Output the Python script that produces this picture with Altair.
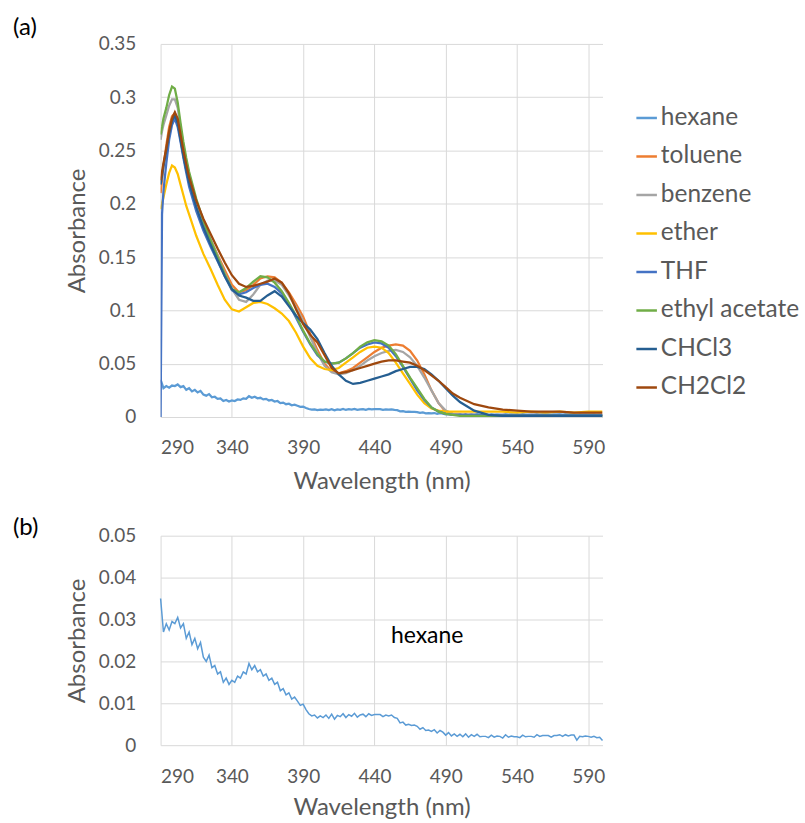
import altair as alt
import pandas as pd

# ---------------- data ----------------
series_names = ["hexane", "toluene", "benzene", "ether", "THF",
                "ethyl acetate", "CHCl3", "CH2Cl2"]
series_colors = ["#5B9BD5", "#ED7D31", "#A5A5A5", "#FFC000", "#4472C4",
                 "#70AD47", "#255E91", "#9E480E"]

x_ticks = [290, 340, 390, 440, 490, 540, 590]
y_ticks_a = [0, 0.05, 0.1, 0.15, 0.2, 0.25, 0.3, 0.35]
y_ticks_b = [0, 0.01, 0.02, 0.03, 0.04, 0.05]

# hexane, measured every 2 nm
hex_wl = list(range(290, 601, 2))
hexane = [
    0.035, 0.027, 0.029, 0.0275, 0.0295, 0.029, 0.0305, 0.028, 0.029, 0.0255,
    0.027, 0.024, 0.0255, 0.023, 0.0245, 0.021, 0.02, 0.0215, 0.0185, 0.019,
    0.017, 0.0175, 0.015, 0.016, 0.0145, 0.0155, 0.015, 0.0165, 0.016, 0.0175,
    0.017, 0.0195, 0.018, 0.019, 0.0175, 0.018, 0.0165, 0.017, 0.0155, 0.016,
    0.0145, 0.015, 0.013, 0.0135, 0.012, 0.0125, 0.011, 0.0115, 0.0105, 0.0095,
    0.0098, 0.0085, 0.0075, 0.007, 0.0072, 0.0065, 0.007, 0.0066, 0.0072, 0.0064,
    0.0074, 0.0062, 0.0071, 0.0068, 0.0075, 0.0066, 0.0073, 0.0069, 0.0076, 0.0067,
    0.0072, 0.0074, 0.0068, 0.0075, 0.0071, 0.0073, 0.0073, 0.0073, 0.0068, 0.0072,
    0.007, 0.0072, 0.0066, 0.0064, 0.0053, 0.0055, 0.0048, 0.005, 0.0047, 0.0048,
    0.0045, 0.0038, 0.0042, 0.0035, 0.0036, 0.0033, 0.0037, 0.0029, 0.0035, 0.0031,
    0.0024, 0.003, 0.0022, 0.0027, 0.0021, 0.0026, 0.002, 0.0027, 0.0019, 0.0025,
    0.0021, 0.0026, 0.002, 0.0021, 0.0021, 0.0018, 0.0024, 0.0019, 0.0022, 0.0021,
    0.0017, 0.0025, 0.0019, 0.0022, 0.002, 0.002, 0.0018, 0.0024, 0.002, 0.0021,
    0.0021, 0.0019, 0.0025, 0.0021, 0.0023, 0.0023, 0.0023, 0.0019, 0.0023, 0.0023,
    0.0025, 0.0021, 0.0025, 0.0022, 0.0024, 0.0024, 0.0012, 0.0021, 0.002, 0.0022,
    0.0021, 0.0019, 0.0021, 0.0018, 0.0019, 0.0011,
]

wl = [290, 291, 292, 294, 296, 298, 300, 302, 304, 306,
      308, 310, 315, 320, 325, 330, 335, 340, 345, 350,
      355, 360, 365, 370, 375, 380, 385, 390, 395, 400,
      405, 410, 415, 420, 425, 430, 435, 440, 445, 450,
      455, 460, 465, 470, 475, 480, 485, 490, 495, 500,
      510, 520, 530, 540, 550, 560, 570, 580, 590, 600]

toluene = [0.21, 0.222, 0.235, 0.255, 0.272, 0.282, 0.285, 0.278, 0.262, 0.246,
           0.232, 0.22, 0.197, 0.18, 0.166, 0.152, 0.138, 0.124, 0.117, 0.119,
           0.124, 0.13, 0.132, 0.131, 0.126, 0.117, 0.106, 0.094, 0.078, 0.063,
           0.05, 0.043, 0.041, 0.043, 0.046, 0.051, 0.056, 0.061, 0.065, 0.067,
           0.068, 0.067, 0.062, 0.053, 0.04, 0.025, 0.013, 0.005, 0.003, 0.002,
           0.002, 0.001, 0.002, 0.001, 0.002, 0.002, 0.001, 0.002, 0.002, 0.002]

benzene = [0.26, 0.268, 0.274, 0.283, 0.292, 0.298, 0.298, 0.29, 0.272, 0.255,
           0.24, 0.228, 0.202, 0.183, 0.167, 0.151, 0.135, 0.12, 0.11, 0.108,
           0.115, 0.124, 0.128, 0.128, 0.124, 0.114, 0.103, 0.09, 0.075, 0.06,
           0.048, 0.042, 0.04, 0.041, 0.044, 0.048, 0.053, 0.057, 0.06, 0.062,
           0.063, 0.061, 0.056, 0.048, 0.037, 0.025, 0.013, 0.006, 0.003, 0.002,
           0.001, 0.001, 0.001, 0.001, 0.001, 0.001, 0.001, 0.001, 0.001, 0.001]

ether = [0.195, 0.2, 0.206, 0.218, 0.229, 0.236, 0.234, 0.228, 0.218, 0.208,
         0.198, 0.19, 0.17, 0.153, 0.139, 0.124, 0.11, 0.101, 0.099, 0.103,
         0.107, 0.108, 0.106, 0.102, 0.097, 0.09, 0.079, 0.066, 0.055, 0.048,
         0.045, 0.044, 0.046, 0.051, 0.056, 0.061, 0.065, 0.066, 0.065, 0.06,
         0.051, 0.041, 0.031, 0.021, 0.013, 0.008, 0.006, 0.005, 0.005, 0.005,
         0.005, 0.005, 0.005, 0.004, 0.005, 0.004, 0.005, 0.004, 0.005, 0.005]

thf = [0.0, 0.19, 0.212, 0.238, 0.26, 0.274, 0.28, 0.272, 0.258, 0.243,
       0.229, 0.216, 0.193, 0.175, 0.16, 0.146, 0.132, 0.119, 0.115, 0.117,
       0.121, 0.124, 0.125, 0.122, 0.116, 0.106, 0.093, 0.08, 0.068, 0.058,
       0.052, 0.05, 0.051, 0.055, 0.06, 0.065, 0.068, 0.07, 0.069, 0.065,
       0.057, 0.047, 0.036, 0.025, 0.016, 0.009, 0.005, 0.003, 0.002, 0.002,
       0.002, 0.002, 0.002, 0.002, 0.002, 0.002, 0.002, 0.002, 0.002, 0.002]

ethyl_acetate = [0.265, 0.272, 0.28, 0.29, 0.302, 0.31, 0.308, 0.295, 0.276, 0.258,
                 0.243, 0.23, 0.205, 0.184, 0.166, 0.15, 0.134, 0.12, 0.117, 0.121,
                 0.127, 0.132, 0.131, 0.126, 0.118, 0.107, 0.095, 0.081, 0.069, 0.059,
                 0.052, 0.05, 0.051, 0.055, 0.06, 0.066, 0.07, 0.072, 0.071, 0.067,
                 0.059, 0.048, 0.037, 0.027, 0.017, 0.009, 0.005, 0.003, 0.002, 0.001,
                 0.001, 0.001, 0.001, 0.001, 0.001, 0.001, 0.001, 0.001, 0.001, 0.001]

chcl3 = [0.218, 0.226, 0.235, 0.25, 0.266, 0.278, 0.283, 0.276, 0.26, 0.245,
         0.232, 0.22, 0.197, 0.178, 0.162, 0.147, 0.132, 0.12, 0.114, 0.112,
         0.109, 0.109, 0.114, 0.118, 0.113, 0.104, 0.095, 0.088, 0.082, 0.073,
         0.06, 0.048, 0.04, 0.034, 0.031, 0.032, 0.034, 0.036, 0.038, 0.04,
         0.043, 0.045, 0.047, 0.047, 0.045, 0.04, 0.034, 0.027, 0.02, 0.014,
         0.006, 0.002, 0.001, 0.001, 0.001, 0.001, 0.001, 0.001, 0.001, 0.001]

ch2cl2 = [0.222, 0.23, 0.238, 0.252, 0.268, 0.28, 0.286, 0.28, 0.265, 0.25,
          0.237, 0.225, 0.203, 0.186, 0.172, 0.158, 0.145, 0.133, 0.125, 0.122,
          0.123, 0.125, 0.127, 0.13, 0.126, 0.116, 0.101, 0.087, 0.077, 0.07,
          0.058, 0.046, 0.041, 0.042, 0.044, 0.046, 0.048, 0.05, 0.052, 0.053,
          0.053, 0.052, 0.051, 0.048, 0.044, 0.039, 0.034, 0.028, 0.022, 0.018,
          0.012, 0.009, 0.007, 0.006, 0.005, 0.005, 0.005, 0.004, 0.004, 0.004]

annot_wl = [477]
annot_abs = [0.026]
annot_text = ["hexane"]

# ---------------- tables ----------------
rows = []
for w, v in zip(hex_wl, hexane):
    rows.append({"wl": w, "abs": v, "solvent": "hexane", "k": 0})
others = [toluene, benzene, ether, thf, ethyl_acetate, chcl3, ch2cl2]
for i, vals in enumerate(others, start=1):
    for w, v in zip(wl, vals):
        rows.append({"wl": w, "abs": v, "solvent": series_names[i], "k": i})
df = pd.DataFrame(rows)
df_hex = pd.DataFrame({"wl": hex_wl, "abs": hexane})
df_annot = pd.DataFrame({"wl": annot_wl, "abs": annot_abs, "t": annot_text})

FONT = "Lato"
GRAY = "#595959"


def x_enc(title_pad):
    return alt.X("wl:Q", scale=alt.Scale(domain=[290, 600], nice=False, zero=False),
                 axis=alt.Axis(values=x_ticks, title="Wavelength (nm)",
                               labelPadding=22, titlePadding=title_pad))


def y_axis(ticks):
    return alt.Axis(values=ticks, format="~g", title="Absorbance",
                    labelPadding=25, titlePadding=9)


# ---------------- panel (a) ----------------
lines_a = alt.Chart(df).mark_line(strokeWidth=2.25, clip=True).encode(
    x=x_enc(12),
    y=alt.Y("abs:Q", scale=alt.Scale(domain=[0, 0.35], nice=False),
            axis=y_axis(y_ticks_a)),
    color=alt.Color("solvent:N",
                    scale=alt.Scale(domain=series_names, range=series_colors),
                    legend=alt.Legend(orient="none", legendX=475, legendY=62,
                                      title=None, symbolType="stroke",
                                      symbolSize=424, symbolStrokeWidth=2.5,
                                      labelFontSize=24.5, labelFont=FONT,
                                      labelColor=GRAY, rowPadding=13.6,
                                      labelOffset=2, labelLimit=300)),
    detail="k:O",
    order="wl:Q",
)
label_a = alt.Chart(pd.DataFrame({"t": ["(a)"]})).mark_text(
    align="left", baseline="middle", fontSize=24, font=FONT, color="black"
).encode(text="t:N", x=alt.value(-148), y=alt.value(-16))
panel_a = alt.layer(lines_a, label_a).properties(width=443, height=374)

# ---------------- panel (b) ----------------
line_b = alt.Chart(df_hex).mark_line(strokeWidth=1.5, color="#5B9BD5").encode(
    x=x_enc(9),
    y=alt.Y("abs:Q", scale=alt.Scale(domain=[0, 0.05], nice=False),
            axis=y_axis(y_ticks_b)),
)
annot_b = alt.Chart(df_annot).mark_text(
    fontSize=23, font=FONT, color="black", align="center", baseline="middle"
).encode(x="wl:Q", y="abs:Q", text="t:N")
label_b = alt.Chart(pd.DataFrame({"t": ["(b)"]})).mark_text(
    align="left", baseline="middle", fontSize=24, font=FONT, color="black"
).encode(text="t:N", x=alt.value(-148), y=alt.value(-8))
panel_b = alt.layer(line_b, annot_b, label_b).properties(width=443, height=210)

chart = alt.vconcat(panel_a, panel_b, spacing=119, bounds="flush").properties(
    padding={"left": 13, "top": 15, "right": 5, "bottom": 5},
    background="white",
).configure_view(stroke=None).configure_axis(
    grid=True, gridColor="#d9d9d9", gridWidth=1, domain=False, ticks=False,
    labelFont=FONT, labelFontSize=19, labelColor=GRAY,
    titleFont=FONT, titleFontSize=24, titleColor=GRAY, titleFontWeight="normal",
)

chart.save("out.html", embed_options={"renderer": "svg", "actions": False})
